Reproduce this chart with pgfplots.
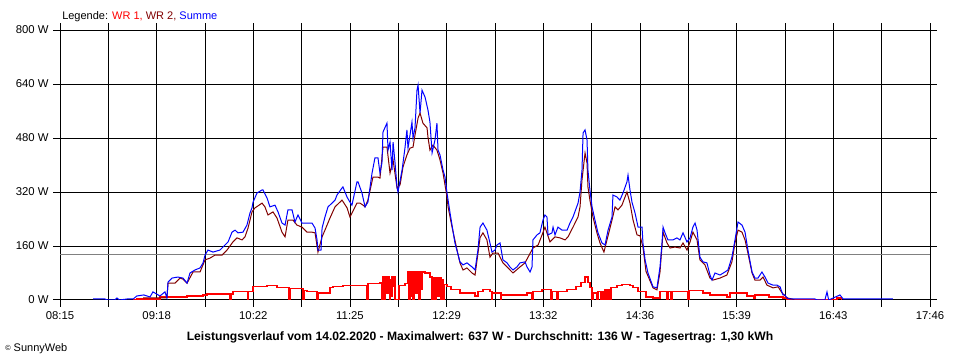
\documentclass[border=0pt]{standalone}
\usepackage{pgfplots}
\pgfplotsset{compat=1.18}
\usepackage{fontspec}
\setmainfont{Liberation Sans}
\definecolor{wrone}{RGB}{255,0,0}
\definecolor{wrtwo}{RGB}{128,0,0}
\definecolor{summe}{RGB}{0,0,255}
\definecolor{avg}{RGB}{128,128,128}
\begin{document}
\begin{tikzpicture}[font=\fontsize{8.25}{10}\selectfont]
\useasboundingbox (-45pt,-45pt) rectangle (675pt,225pt);
\begin{axis}[
  scale only axis, width=652.5pt, height=202.5pt,
  xmin=0, xmax=571, ymin=0, ymax=800,
  axis line style={black, line width=0.75pt},
  grid=major, major grid style={black, line width=0.75pt},
  xtick={0,31.722,63.444,95.167,126.889,158.611,190.333,222.056,253.778,285.5,317.222,348.944,380.667,412.389,444.111,475.833,507.556,539.278,571},
  xticklabels={08:15,,09:18,,10:22,,11:25,,12:29,,13:32,,14:36,,15:39,,16:43,,17:46},
  ytick={0,160,320,480,640,800},
  yticklabels={0 W,160 W,320 W,480 W,640 W,800 W},
  tick align=outside, tick style={black, line width=0.75pt}, major tick length=5pt,
  tick label style={font=\fontsize{8.5}{10}\selectfont},
]
\addplot[avg, line width=0.75pt, forget plot] coordinates {(0,136) (571,136)};
\addplot[color=red, line width=0.9pt, const plot, mark=none] table {
48 0
50.5 3
65.6 9
83.4 12
93.9 15
96.5 18
111.6 0
112.3 18
113.5 24
123.1 0
123.7 24
126.7 39
135.9 42
142.4 36
150.3 0
151.0 33
157.5 33
159.5 0
160.1 27
162.1 24
168.7 0
169.3 21
177.2 36
179.2 39
185.7 42
192.3 44
196.9 42
201.5 0
202.1 50
210.0 53
211.3 0
212.0 68
212.6 0
213.3 68
214.6 20
215.3 68
216.0 0
216.6 60
217.3 10
217.9 68
218.6 40
219.3 68
219.9 0
222.5 44
226.4 50
228.4 83
229.0 0
229.7 83
230.4 10
231.0 83
231.7 0
232.3 83
233.6 20
234.3 83
235.6 0
236.3 83
237.0 30
237.6 83
239.6 80
242.8 68
244.2 0
244.8 65
246.1 0
246.8 65
248.1 10
248.7 65
250.0 0
250.7 60
251.4 0
252.0 45
254.0 39
256.6 30
262.5 21
272.4 12
274.3 24
277.6 30
282.2 24
283.5 0
284.1 21
288.8 21
289.4 0
290.0 15
306.5 21
309.8 0
310.4 24
316.4 30
320.3 30
322.3 0
322.9 24
326.2 0
326.8 24
332.8 30
338.7 39
342.0 53
344.6 68
346.5 53
347.8 36
349.2 0
349.8 21
351.8 21
352.4 0
353.1 24
355.0 0
355.7 24
357.0 0
357.7 30
359.0 0
359.7 30
361.0 0
361.6 36
365.6 44
368.8 47
374.1 44
376.1 36
379.4 24
384.6 9
389.2 6
393.8 24
398.4 0
399.0 24
401.0 0
401.6 24
411.5 24
412.2 0
412.8 27
422.0 21
426.6 15
437.7 9
439.7 21
448.2 21
450.9 12
455.5 6
456.1 15
465.3 9
474.5 6
477.1 3
479.1 0
505 0
510 6
513 0
};
\addplot[draw=wrtwo, line width=0.75pt, mark=none] table {
54.5 6
70.2 6
70.9 50
75.5 50
78.8 65
80.7 62
83.4 50
87.3 83
91.9 83
95.2 119
98.4 124
101.7 133
106.3 133
109.6 148
113.5 172
116.2 184
119.5 178
121.4 187
123.4 213
126.0 261
128.0 273
132.6 287
134.5 276
136.5 252
139.8 261
142.4 243
145.7 201
147.7 187
149.6 237
152.9 237
155.5 222
158.8 216
162.1 201
165.4 201
167.4 199
169.3 142
172.0 187
173.9 207
177.2 243
180.5 276
185.1 296
188.4 273
190.3 246
194.9 287
196.9 287
198.9 281
200.2 276
202.1 296
205.4 364
208.7 364
210.0 361
212.0 453
214.6 453
216.6 376
218.6 415
221.2 332
223.2 341
225.1 394
227.7 430
229.7 450
231.7 453
233.0 489
235.0 539
236.3 554
238.2 524
240.9 510
241.5 483
242.8 444
244.8 459
247.4 444
249.4 415
251.4 376
254.0 305
254.7 276
257.3 216
260.6 148
262.5 110
264.5 89
267.1 95
270.4 80
272.4 74
275.7 185
277.6 199
280.2 178
282.2 127
284.1 139
287.5 139
290.7 110
293.4 98
297.3 80
301.9 98
305.2 110
307.2 127
310.4 154
313.8 163
316.4 193
318.3 216
321.6 172
324.9 187
328.2 184
331.5 178
333.4 187
336.7 216
340.0 246
341.3 276
342.6 356
344.6 436
345.9 406
346.5 335
347.8 296
349.8 246
352.4 199
354.4 169
357.0 142
359.0 178
362.3 237
364.3 276
366.2 267
368.8 281
372.1 320
374.1 287
376.1 237
378.7 193
380.7 190
382.6 157
384.6 85
389.2 36
391.8 30
393.8 83
395.8 201
398.4 169
400.4 154
403.6 157
406.9 154
408.9 169
411.5 148
413.5 172
415.4 201
418.1 178
420.0 119
423.3 104
426.6 65
428.5 59
433.2 65
437.7 74
441.0 113
443.0 169
445.0 207
447.6 201
449.6 178
451.5 139
454.2 80
456.1 59
459.4 59
461.4 68
464.0 44
468.0 36
471.3 39
473.9 21
477.1 6
480.4 3
482 0
};
\addplot[draw=summe, line width=0.75pt, mark=none] table {
21.7 3
29.5 3
31 0
36 0
37.4 6
39 0
44.0 3
48 3
50.5 12
55 15
59.1 9
61.0 24
65.6 12
68.9 24
70.2 6
70.9 53
73.5 65
77.4 68
80.7 65
83.4 50
85.3 80
88.6 89
91.9 95
93.9 110
95.2 133
97.1 148
100.4 142
105.0 148
108.3 163
110.3 172
112.9 201
114.9 207
116.8 199
120.1 201
122.7 222
124.7 258
126.0 273
126.7 290
129.3 317
132.6 326
133.2 326
135.9 302
137.8 276
141.1 281
143.1 261
145.7 228
147.7 222
149.6 267
152.3 267
154.2 231
156.2 252
158.8 228
162.1 228
165.4 228
167.4 213
168.7 178
169.3 148
171.3 148
172.0 213
173.9 246
175.9 276
178.5 287
180.5 296
181.8 311
185.1 332
185.7 335
188.4 305
190.3 290
191.6 281
194.9 350
195.6 350
198.2 317
200.2 276
202.1 290
204.8 376
206.7 421
208.7 421
210.0 376
211.3 406
212.0 498
214.6 524
215.3 444
216.6 468
217.9 385
218.6 468
219.9 406
221.2 335
221.8 320
224.5 385
226.4 450
227.7 504
228.4 450
231.0 527
231.7 480
233.0 510
234.3 622
235.0 637
236.3 554
237.6 622
239.6 601
241.5 563
242.8 527
244.2 436
246.1 474
247.4 524
248.1 444
249.4 430
251.4 385
252.7 364
254.0 317
256.0 258
259.2 169
262.5 113
264.5 104
267.1 110
270.4 98
272.4 89
274.3 148
275.7 216
277.6 228
280.2 207
282.2 169
283.5 142
285.5 148
286.8 163
288.8 169
290.7 119
293.4 110
295.3 98
297.3 89
299.9 98
301.9 110
305.2 113
306.5 98
308.5 83
309.8 98
310.4 178
313.1 193
315.0 199
317.0 237
318.3 252
319.6 246
320.3 193
322.9 199
323.6 216
324.9 193
326.8 216
329.5 207
332.8 207
334.7 228
336.7 246
340.0 287
341.3 320
342.6 385
343.3 495
344.6 504
345.9 474
346.5 385
347.8 326
349.2 276
351.1 237
353.1 199
355.7 169
357.7 163
359.7 207
362.3 246
362.9 311
365.6 305
367.5 296
369.5 317
372.1 350
372.8 370
374.1 326
375.4 290
377.4 258
379.4 216
382.0 216
382.6 169
384.0 119
385.9 80
389.2 39
391.8 36
393.8 98
395.1 169
395.8 216
397.1 199
399.0 178
402.3 178
404.9 184
406.9 178
408.9 199
411.5 172
413.5 184
415.4 216
416.8 228
418.1 207
420.0 127
422.0 113
424.6 110
426.6 74
427.9 59
429.9 80
433.2 74
436.4 83
438.4 89
441.0 127
443.0 178
445.0 231
447.6 222
449.6 201
451.5 148
454.2 83
456.1 65
458.1 65
460.7 83
462.7 68
464.7 50
468.0 44
470.6 44
472.6 39
474.5 15
475.8 15
477.1 6
479.1 3
482.4 3
495.5 3
497 0
502 0
503.4 24
504.5 0
506 3
511.9 15
514 3
525.1 3
546.7 3
};
\end{axis}
\node[anchor=west, inner sep=0pt] at (1.5pt,212.25pt) {Legende: \textcolor{wrone}{WR 1,} \textcolor{wrtwo}{WR 2,} \textcolor{summe}{Summe}};
\node[font=\fontsize{9.1}{11}\selectfont\bfseries, inner sep=0pt] at (315pt,-27.75pt) {Leistungsverlauf vom 14.02.2020 - Maximalwert: 637 W - Durchschnitt: 136 W - Tagesertrag: 1,30 kWh};
\node[anchor=west, inner sep=0pt] at (-41.25pt,-36.75pt) {\raisebox{0.3ex}{\fontsize{5.5}{6}\selectfont\textcopyright} SunnyWeb};
\end{tikzpicture}
\end{document}
